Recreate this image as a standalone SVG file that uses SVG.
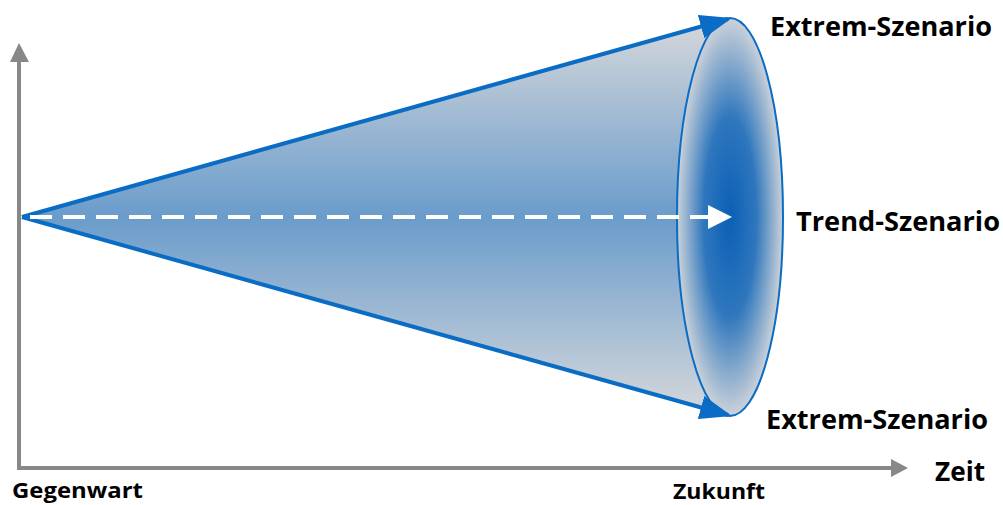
<svg xmlns="http://www.w3.org/2000/svg" width="1003" height="505" viewBox="0 0 1003 505">
<style>
.lbl{font-family:"Open Sans","Liberation Sans",sans-serif;font-weight:bold;fill:#000}
.big{font-size:26.5px}
.small{font-size:22px}
.axis{stroke:#888;stroke-width:4;fill:none}
.edge{stroke:#0a6cc4;stroke-width:4;fill:none}
</style>
<defs>
<linearGradient id="cone" x1="0" y1="18" x2="0" y2="416" gradientUnits="userSpaceOnUse">
<stop offset="0" stop-color="#d6d8db"/>
<stop offset="0.5" stop-color="#6a9ccb"/>
<stop offset="1" stop-color="#d6d8db"/>
</linearGradient>
<radialGradient id="disc" cx="0.5" cy="0.5" r="0.5">
<stop offset="0" stop-color="#0a5fb6"/>
<stop offset="0.5" stop-color="#2f77bd"/>
<stop offset="1" stop-color="#ccd2d9"/>
</radialGradient>
<marker id="blueHead" markerWidth="8" markerHeight="6" refX="7" refY="3" orient="auto" markerUnits="strokeWidth">
<path d="M0,0 L8,3 L0,6 Z" fill="#0a6cc4"/>
</marker>
<marker id="whiteHead" markerWidth="6" markerHeight="6" refX="5" refY="3" orient="auto" markerUnits="strokeWidth">
<path d="M0,0 L6,3 L0,6 Z" fill="#fff"/>
</marker>
</defs>
<g id="axes">
<path class="axis" d="M19,470 L19,60"/>
<path d="M10,62 L19,43 L29,62 Z" fill="#888"/>
<path class="axis" d="M17,468 L892,468"/>
<path d="M891,459 L908,468 L891,477 Z" fill="#888"/>
</g>
<g id="cone">
<path d="M22,217 L730,18 L730,416 Z" fill="url(#cone)"/>
<ellipse cx="730" cy="217" rx="53" ry="199" fill="url(#disc)" stroke="#0a6cc4" stroke-width="2"/>
</g>
<g id="connectors">
<path class="edge" d="M22,217 L728,19" marker-end="url(#blueHead)"/>
<path class="edge" d="M22,217 L728,415" marker-end="url(#blueHead)"/>
<path d="M30,217 L728,217" stroke="#fff" stroke-width="4" stroke-dasharray="22,11" fill="none" marker-end="url(#whiteHead)"/>
</g>
<g id="labels">
<text class="lbl big" x="770" y="36" textLength="222" lengthAdjust="spacingAndGlyphs">Extrem-Szenario</text>
<text class="lbl big" x="796" y="231" textLength="204" lengthAdjust="spacingAndGlyphs">Trend-Szenario</text>
<text class="lbl big" x="766" y="429" textLength="222" lengthAdjust="spacingAndGlyphs">Extrem-Szenario</text>
<text class="lbl big" x="935" y="481" textLength="50" lengthAdjust="spacingAndGlyphs">Zeit</text>
<text class="lbl small" x="12" y="498" textLength="131" lengthAdjust="spacingAndGlyphs">Gegenwart</text>
<text class="lbl small" x="673" y="499" textLength="92" lengthAdjust="spacingAndGlyphs">Zukunft</text>
</g>
</svg>
